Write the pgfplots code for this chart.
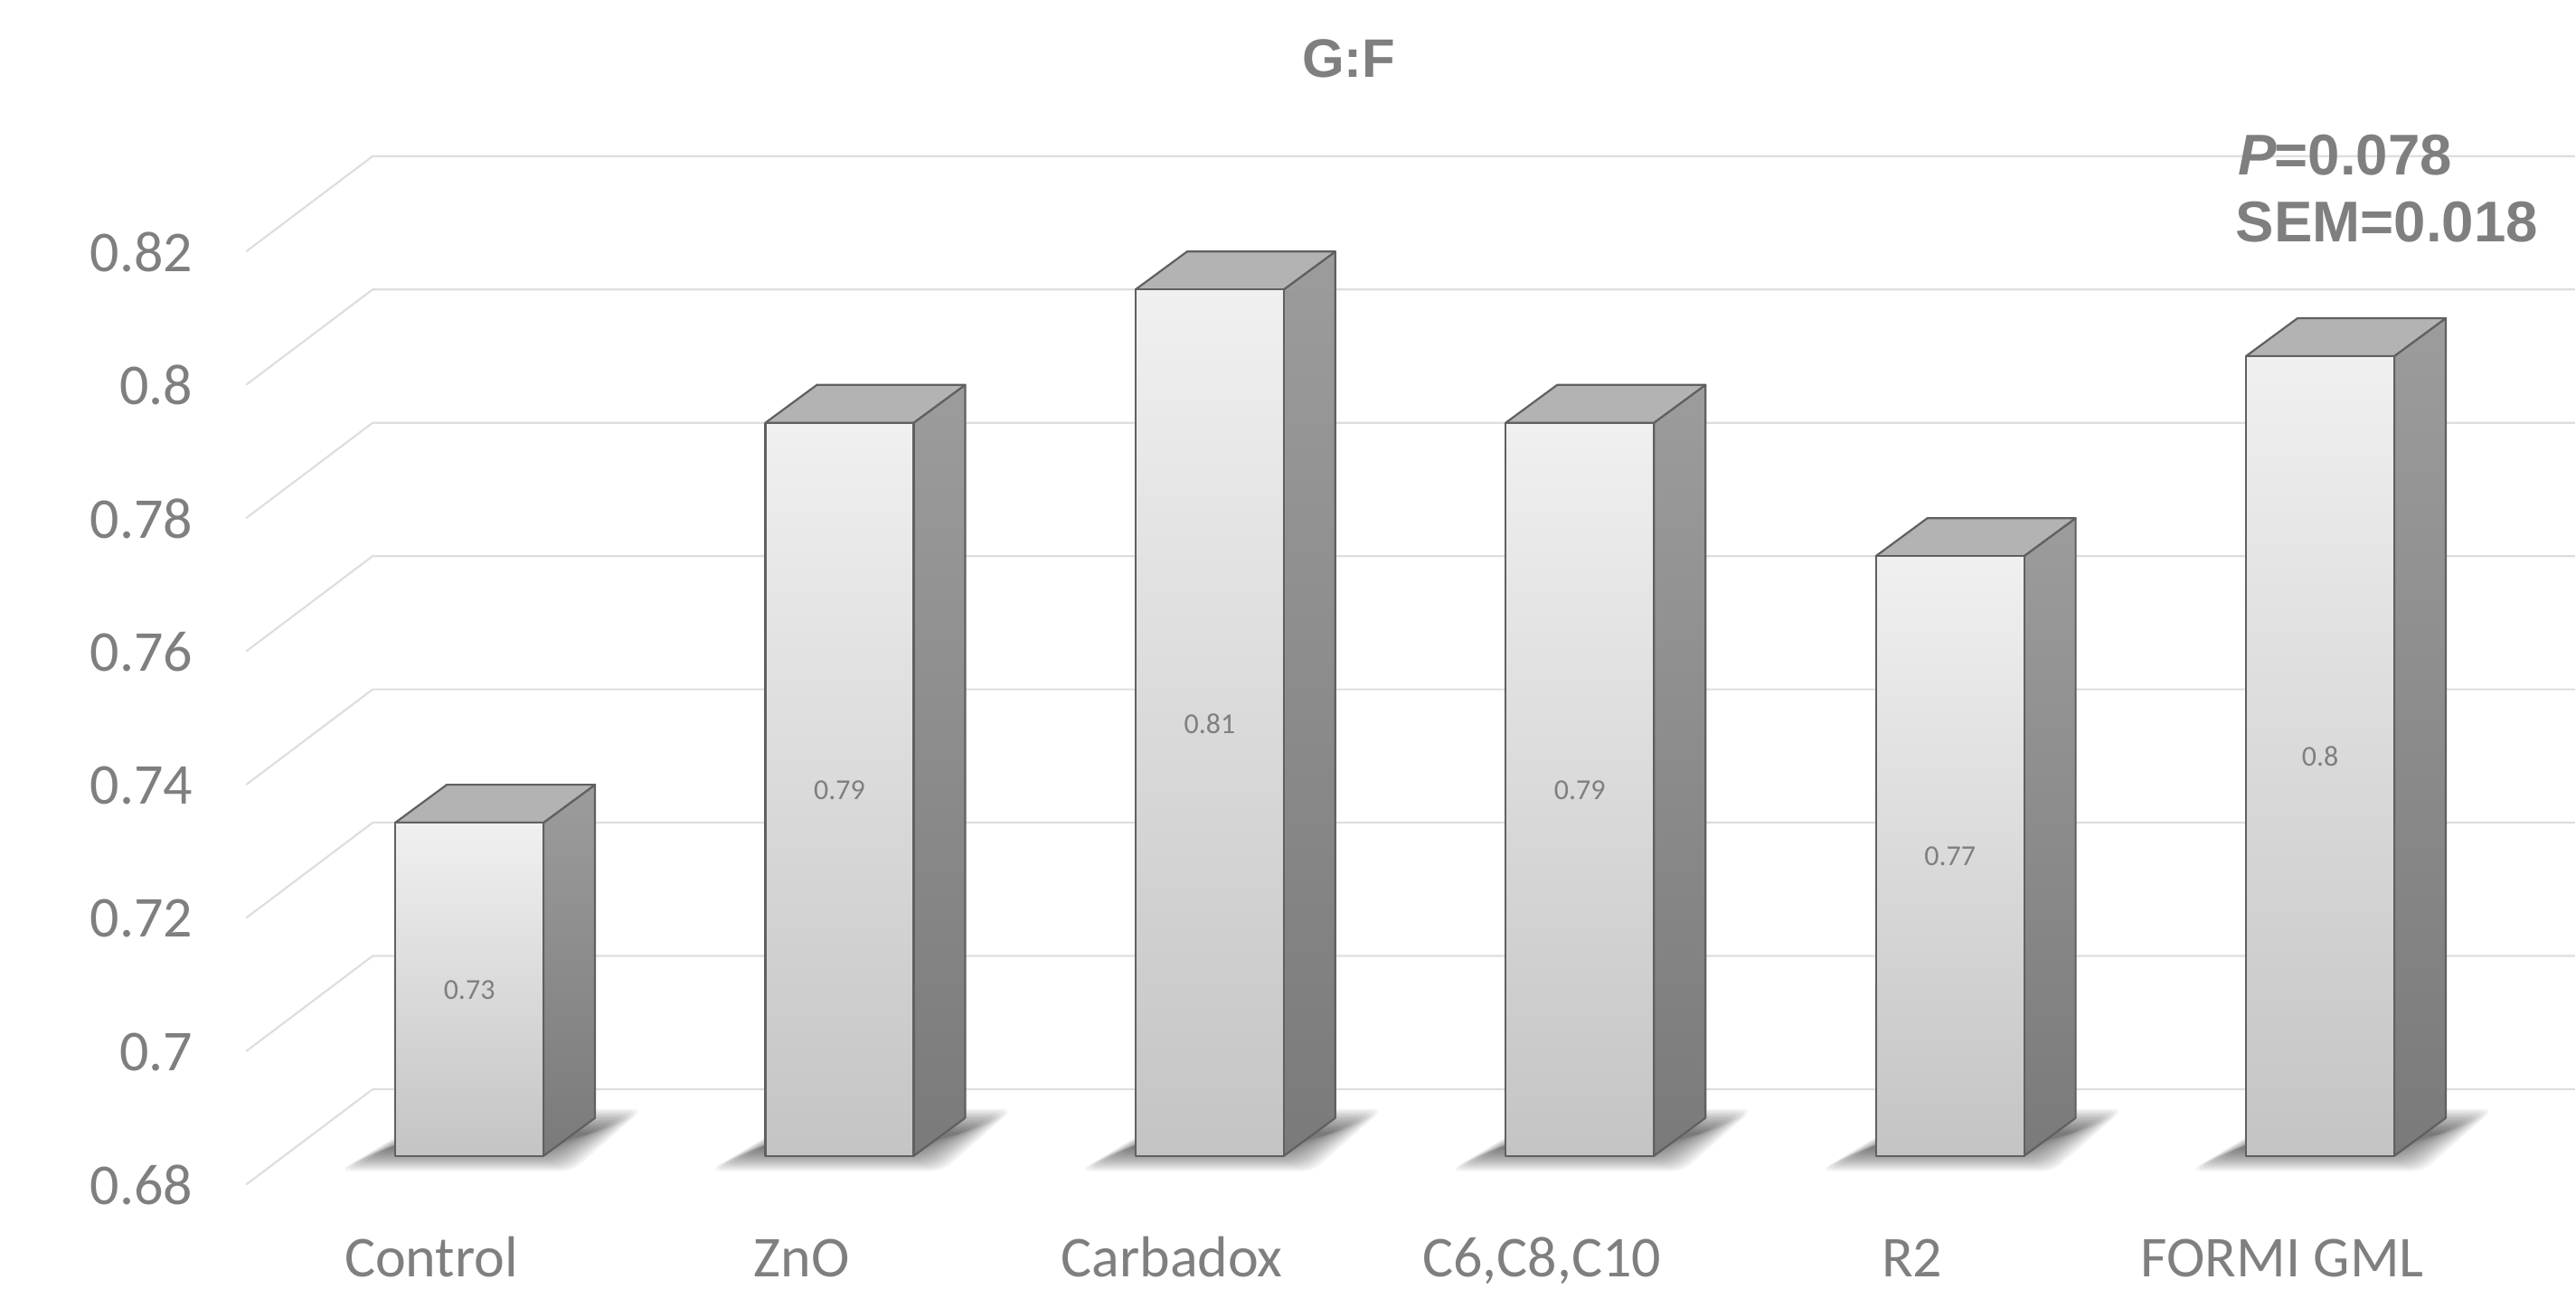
\documentclass[border=0pt]{standalone}
\usepackage{fontspec}
\setmainfont{Carlito}
\newfontfamily\headfont{Liberation Sans}
\usepackage{pgfplots}
\pgfplotsset{compat=1.18}

\definecolor{inktext}{HTML}{7F7F7F}
\definecolor{gridgray}{HTML}{DEDEDE}
\definecolor{edgegray}{HTML}{606060}
\definecolor{frontlight}{HTML}{F0F0F0}
\definecolor{frontdark}{HTML}{C4C4C4}
\definecolor{sidelight}{HTML}{9C9C9C}
\definecolor{sidedark}{HTML}{7A7A7A}
\definecolor{topface}{HTML}{B3B3B3}

% back wall rule for one y value: front edge, back corner, right end
\newcommand{\wallrule}[2]{%
  \addplot[gridgray, line width=0.55pt] coordinates {(-0.6030,#1) (-0.2612,#2) (5.6885,#2)};}

% one soft layer of the floor shadow under column #1, grown by #2 (in pt)
\newcommand{\shadowlayer}[2]{%
  \fill[black, opacity=0.05, rounded corners=3pt]
    ([xshift={-30pt-2.0*(#2)},yshift={-1.2pt-(#2)}]axis cs:#1,0.68) --
    ([xshift={24pt+1.5*(#2)},yshift={-1.2pt-(#2)}]axis cs:#1,0.68) --
    ([xshift={42pt+2.0*(#2)},yshift={10pt+(#2)}]axis cs:#1,0.68) --
    ([xshift={-7.5pt},yshift={10pt+(#2)}]axis cs:#1,0.68) -- cycle;}

% column faces: xl, xr, back xl, back xr, value, back top
\newcommand{\column}[6]{%
  \addplot[draw=edgegray, line width=0.55pt, line join=round, top color=sidelight, bottom color=sidedark]
    coordinates {(#2,0.68) (#4,0.68569) (#4,#6) (#2,#5)} --cycle;
  \addplot[draw=edgegray, line width=0.55pt, line join=round, fill=topface]
    coordinates {(#1,#5) (#2,#5) (#4,#6) (#3,#6)} --cycle;
  \addplot[draw=edgegray, line width=0.55pt, line join=round, top color=frontlight, bottom color=frontdark]
    coordinates {(#1,0.68) (#2,0.68) (#2,#5) (#1,#5)} --cycle;}

\begin{document}
\begin{tikzpicture}
\begin{axis}[
  scale only axis,
  width=712.25pt, height=356.25pt,
  xmin=-1.26709, xmax=5.68848,
  ymin=0.66021, ymax=0.85338,
  clip=false,
  axis line style={draw=none},
  major tick length=0pt,
  xtick={0,1,2,3,4,5},
  xticklabels={Control,ZnO,Carbadox,{C6,C8,C10},R2,FORMI GML},
  xticklabel style={anchor=base, inner sep=0pt, xshift=-10.5pt, yshift=3pt,
    font=\fontsize{16}{18}\selectfont, text=inktext},
  ytick={0.68,0.70,0.72,0.74,0.76,0.78,0.80,0.82},
  yticklabels={0.68,0.7,0.72,0.74,0.76,0.78,0.8,0.82},
  yticklabel style={anchor=east, inner sep=0pt, xshift=53.4pt, yshift=-8.1pt,
    font=\fontsize{16}{18}\selectfont, text=inktext},
]
% back wall rules
\wallrule{0.6757}{0.6900}
\wallrule{0.6957}{0.7100}
\wallrule{0.7157}{0.7300}
\wallrule{0.7357}{0.7500}
\wallrule{0.7557}{0.7700}
\wallrule{0.7757}{0.7900}
\wallrule{0.7957}{0.8100}
\wallrule{0.8157}{0.8300}

% floor shadows
\pgfplotsinvokeforeach{0,1,2,3,4,5}{
  \shadowlayer{#1}{3.0}
  \shadowlayer{#1}{2.5}
  \shadowlayer{#1}{2.0}
  \shadowlayer{#1}{1.5}
  \shadowlayer{#1}{1.0}
  \shadowlayer{#1}{0.5}
  \shadowlayer{#1}{0.0}
  \shadowlayer{#1}{-0.5}
  \shadowlayer{#1}{-1.0}
  \shadowlayer{#1}{-1.5}
  \shadowlayer{#1}{-2.0}
  \shadowlayer{#1}{-2.5}
  \shadowlayer{#1}{-3.0}
  \shadowlayer{#1}{-3.5}
}

% columns
\column{-0.2002}{0.2002}{-0.0610}{0.3394}{0.73}{0.73569}
\column{0.7998}{1.2002}{0.9390}{1.3394}{0.79}{0.79569}
\column{1.7998}{2.2002}{1.9390}{2.3394}{0.81}{0.81569}
\column{2.7998}{3.2002}{2.9390}{3.3394}{0.79}{0.79569}
\column{3.7998}{4.2002}{3.9390}{4.3394}{0.77}{0.77569}
\column{4.7998}{5.2002}{4.9390}{5.3394}{0.80}{0.80569}

% value labels at mid height of each column
\addplot[draw=none, mark=none, point meta=explicit symbolic,
  nodes near coords, nodes near coords align={center},
  every node near coord/.append style={anchor=center, inner sep=0pt, yshift=-0.2pt,
    font=\fontsize{8}{10}\selectfont, text=inktext}]
  coordinates {
    (0,0.705) [0.73]
    (1,0.735) [0.79]
    (2,0.745) [0.81]
    (3,0.735) [0.79]
    (4,0.725) [0.77]
    (5,0.740) [0.8]
  };

% title and test statistics
\node[inktext, font=\headfont\bfseries\fontsize{15}{18}\selectfont, anchor=center]
  at (rel axis cs:0.5238,0.9544) {G:F};
\node[inktext, font=\headfont\bfseries\fontsize{15.9}{18}\selectfont, anchor=west, inner sep=0pt]
  at (rel axis cs:0.8690,0.8800) {\itshape P\upshape\kern-0.6pt =0.078};
\node[inktext, font=\headfont\bfseries\fontsize{15.9}{18}\selectfont, anchor=west, inner sep=0pt]
  at (rel axis cs:0.8680,0.8280) {SEM=0.018};
\end{axis}
\end{tikzpicture}
\end{document}
